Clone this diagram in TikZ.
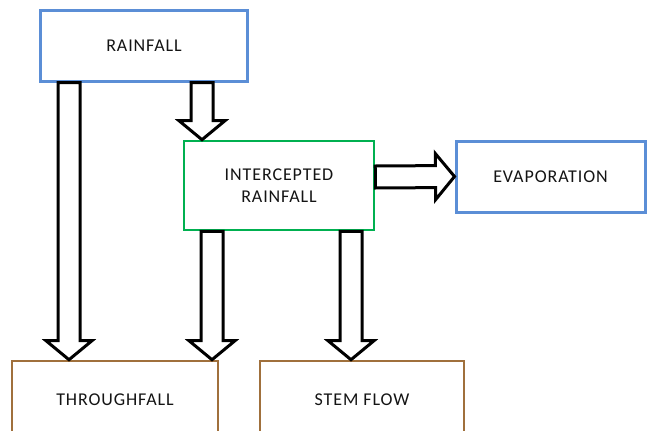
\documentclass[tikz,border=0pt]{standalone}
\usepackage{fontspec}
\usepackage{tikz}
\usetikzlibrary{positioning,calc}
\newfontfamily\boxfont[LetterSpace=5]{Carlito}
\definecolor{bBlue}{RGB}{91,142,214}
\definecolor{bGreen}{RGB}{0,176,80}
\definecolor{bBrown}{RGB}{160,112,60}
\definecolor{bText}{RGB}{20,20,20}
\tikzset{
  box/.style={rectangle, draw=bBlue, line width=3bp, fill=white,
              align=center, text=bText,
              font=\boxfont\fontsize{18bp}{22bp}\selectfont},
  srcbox/.style={box, draw=bBlue},
  midbox/.style={box, draw=bGreen, line width=2.6bp},
  sinkbox/.style={box, draw=bBrown, line width=2.6bp},
  barrow/.style={draw=black, line width=3bp, fill=white, line join=miter},
}
% hollow block arrow from #1 to #2
\newcommand{\BlockArrow}[2]{%
  \coordinate (ba-s) at (#1);
  \coordinate (ba-e) at (#2);
  \coordinate (ba-c) at ($(ba-e)!19bp!(ba-s)$);
  \draw[barrow] ($(ba-s)!11bp!90:(ba-e)$) -- ($(ba-c)!11bp!90:(ba-e)$)
    -- ($(ba-c)!23bp!90:(ba-e)$) -- (ba-e) -- ($(ba-c)!23bp!-90:(ba-e)$)
    -- ($(ba-c)!11bp!-90:(ba-e)$) -- ($(ba-s)!11bp!-90:(ba-e)$) -- cycle;}

\begin{document}
\begin{tikzpicture}[x=1bp, y=1bp]
  \clip (0,0) rectangle (648,430);
  \useasboundingbox (0,0) rectangle (648,430);

  \node[srcbox, minimum width=206bp, minimum height=70bp] (rain) at (144,384) {RAINFALL};
  \node[midbox, minimum width=190bp, minimum height=89bp] (icpt) at (279,244.5)
       {INTERCEPTED\\RAINFALL};
  \node[srcbox, minimum width=189bp, minimum height=71bp] (evap) at (550.5,253.5) {EVAPORATION};
  \node[sinkbox, minimum width=206bp, minimum height=78bp] (thru) at (115,30) {THROUGHFALL};
  \node[sinkbox, minimum width=204bp, minimum height=78bp] (stem) at (362,30) {STEM FLOW};

  % flows
  \BlockArrow{$(rain.south)+(-75,0)$}{$(thru.north)+(-46,0)$}
  \BlockArrow{$(rain.south)+(58,0)$}{$(icpt.north)+(-77,0)$}
  \BlockArrow{$(icpt.south)+(-67,0)$}{$(thru.north)+(97,0)$}
  \BlockArrow{$(icpt.south)+(72,0)$}{$(stem.north)+(-11,0)$}
  \BlockArrow{$(icpt.east)+(0,8.5)$}{evap.west}
\end{tikzpicture}
\end{document}
